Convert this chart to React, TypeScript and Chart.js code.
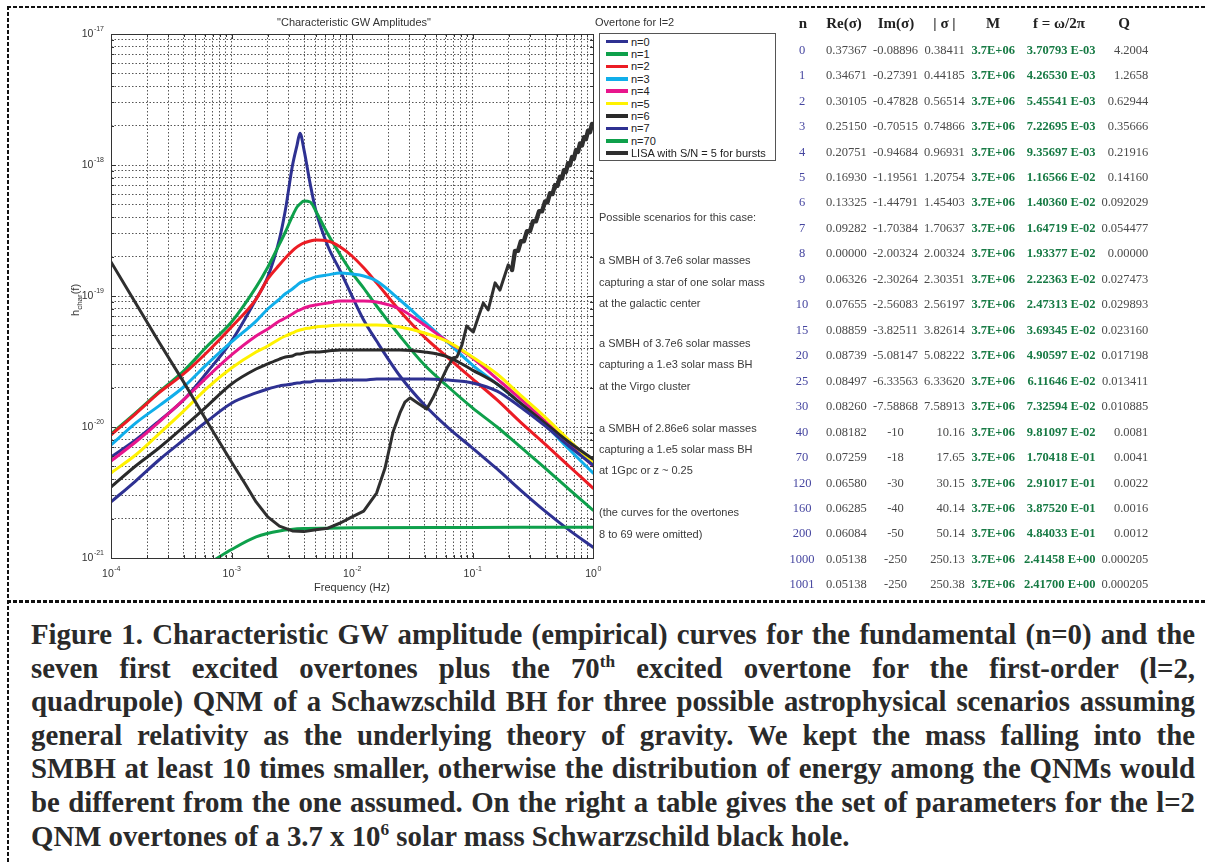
import React, { useEffect, useRef } from 'react';
import { Chart, registerables } from 'chart.js';

Chart.register(...registerables);

// ---------------- chart data ----------------
const overtoneFreq = [1e-4, 1.6e-4, 2.5e-4, 4e-4, 6.3e-4, 1e-3, 1.6e-3, 2e-3, 2.5e-3, 2.8e-3, 3.2e-3, 3.5e-3, 3.7e-3, 4e-3, 4.5e-3, 5e-3, 6.3e-3, 8e-3, 1e-2, 1.25e-2, 1.6e-2, 2.5e-2, 4e-2, 6.3e-2, 0.1, 0.16, 0.25, 0.4, 0.63, 1];

const hN0 = [5.9e-21, 7.96e-21, 1.11e-20, 1.61e-20, 2.63e-20, 4.53e-20, 9.48e-20, 1.40e-19, 2.72e-19, 4.53e-19, 9.82e-19, 1.42e-18, 1.75e-18, 1.30e-18, 7.16e-19, 4.53e-19, 2.41e-19, 1.55e-19, 1.00e-19, 6.56e-20, 4.53e-20, 2.45e-20, 1.47e-20, 9.83e-21, 6.91e-21, 4.78e-21, 3.30e-21, 2.28e-21, 1.64e-21, 1.21e-21];
const hN1 = [8.85e-21, 1.28e-20, 1.85e-20, 2.67e-20, 4.15e-20, 6.34e-20, 1.17e-19, 1.66e-19, 2.49e-19, 3.08e-19, 4.08e-19, 4.78e-19, 5.04e-19, 5.31e-19, 5.22e-19, 4.46e-19, 2.97e-19, 2.06e-19, 1.50e-19, 1.15e-19, 8.39e-20, 4.95e-20, 2.97e-20, 2.02e-20, 1.40e-20, 1.00e-20, 7.04e-21, 4.86e-21, 3.36e-21, 2.32e-21];
const hN2 = [8.69e-21, 1.26e-20, 1.82e-20, 2.54e-20, 3.74e-20, 5.80e-20, 9.48e-20, 1.35e-19, 1.73e-19, 1.95e-19, 2.21e-19, 2.37e-19, 2.45e-19, 2.54e-19, 2.63e-19, 2.68e-19, 2.63e-19, 2.37e-19, 2.02e-19, 1.64e-19, 1.26e-19, 7.68e-20, 4.86e-20, 3.36e-20, 2.33e-20, 1.61e-20, 1.09e-20, 7.41e-21, 5.04e-21, 3.42e-21];
const hN3 = [7.29e-21, 1.07e-20, 1.45e-20, 2.02e-20, 3.03e-20, 4.46e-20, 6.44e-20, 7.96e-20, 9.48e-20, 1.04e-19, 1.13e-19, 1.21e-19, 1.26e-19, 1.30e-19, 1.35e-19, 1.40e-19, 1.45e-19, 1.50e-19, 1.47e-19, 1.42e-19, 1.30e-19, 9.32e-20, 6.34e-20, 4.38e-20, 2.97e-20, 2.13e-20, 1.52e-20, 1.04e-20, 6.79e-21, 4.46e-21];
const hN4 = [5.50e-21, 7.68e-21, 1.09e-20, 1.61e-20, 2.41e-20, 3.55e-20, 4.95e-20, 5.60e-20, 6.44e-20, 6.79e-20, 7.29e-20, 7.68e-20, 7.82e-20, 8.10e-20, 8.39e-20, 8.54e-20, 8.84e-20, 9.16e-20, 9.16e-20, 9.16e-20, 9.00e-20, 7.96e-20, 6.01e-20, 4.46e-20, 3.36e-20, 2.33e-20, 1.64e-20, 1.11e-20, 7.55e-21, 5.04e-21];
const hN5 = [4.46e-21, 6.11e-21, 8.85e-21, 1.32e-20, 1.99e-20, 2.82e-20, 3.74e-20, 4.15e-20, 4.70e-20, 4.95e-20, 5.22e-20, 5.41e-20, 5.50e-20, 5.60e-20, 5.70e-20, 5.80e-20, 5.90e-20, 6.01e-20, 6.01e-20, 6.01e-20, 6.01e-20, 5.80e-20, 5.22e-20, 4.46e-20, 3.42e-20, 2.54e-20, 1.75e-20, 1.19e-20, 7.96e-21, 5.31e-21];
const hN6 = [3.48e-21, 5.04e-21, 6.91e-21, 1.00e-20, 1.45e-20, 2.13e-20, 2.77e-20, 3.03e-20, 3.30e-20, 3.42e-20, 3.48e-20, 3.61e-20, 3.61e-20, 3.67e-20, 3.74e-20, 3.74e-20, 3.80e-20, 3.87e-20, 3.87e-20, 3.87e-20, 3.87e-20, 3.87e-20, 3.74e-20, 3.42e-20, 2.72e-20, 2.13e-20, 1.52e-20, 1.07e-20, 7.68e-21, 5.70e-21];
const hN7 = [2.68e-21, 3.87e-21, 5.60e-21, 7.96e-21, 1.11e-20, 1.52e-20, 1.82e-20, 1.95e-20, 2.06e-20, 2.09e-20, 2.13e-20, 2.17e-20, 2.17e-20, 2.21e-20, 2.21e-20, 2.25e-20, 2.25e-20, 2.28e-20, 2.28e-20, 2.28e-20, 2.33e-20, 2.33e-20, 2.33e-20, 2.28e-20, 2.17e-20, 1.88e-20, 1.42e-20, 1.02e-20, 7.16e-21, 5.13e-21];

const n70Freq = [7e-4, 1e-3, 1.6e-3, 2.5e-3, 4e-3, 6.3e-3, 1e-2, 0.1, 1];
const hN70 = [9.5e-22, 1.16e-21, 1.45e-21, 1.61e-21, 1.68e-21, 1.69e-21, 1.70e-21, 1.71e-21, 1.72e-21];

const lisaFreq = [1e-4, 1.6e-4, 2.5e-4, 4e-4, 6.3e-4, 1e-3, 1.3e-3, 1.6e-3, 2e-3, 2.5e-3, 3.2e-3, 4e-3, 5e-3, 6.3e-3, 8e-3, 1e-2, 1.25e-2, 1.6e-2, 1.88e-2, 2.19e-2, 2.5e-2, 2.75e-2, 3.03e-2, 3.53e-2, 4.17e-2, 4.70e-2, 5.37e-2, 6.14e-2, 6.89e-2, 7.43e-2, 8.18e-2, 8.95e-2, 0.1016, 0.111, 0.123, 0.135, 0.154, 0.169, 0.198, 0.213,
  0.2254, 0.2388, 0.2523, 0.2673, 0.2831, 0.2999, 0.3177, 0.3365, 0.3565, 0.3776, 0.3999, 0.4188, 0.4395, 0.4613, 0.4842, 0.5070, 0.5321, 0.5534, 0.5741, 0.5970, 0.6209, 0.6442, 0.6699, 0.6950, 0.7228, 0.7516, 0.7798, 0.8110, 0.8414, 0.8750, 0.9099, 0.9441, 0.9817, 1.0];
const hLisa = [1.82e-19, 8.84e-20, 4.46e-20, 2.21e-20, 1.09e-20, 5.41e-21, 3.67e-21, 2.68e-21, 2.06e-21, 1.75e-21, 1.61e-21, 1.59e-21, 1.64e-21, 1.69e-21, 1.85e-21, 2.06e-21, 2.28e-21, 3.13e-21, 4.86e-21, 9.16e-21, 1.28e-20, 1.55e-20, 1.67e-20, 1.52e-20, 1.37e-20, 1.67e-20, 2.17e-20, 2.82e-20, 3.36e-20, 3.42e-20, 4.23e-20, 5.90e-20, 5.31e-20, 6.79e-20, 8.84e-20, 7.82e-20, 1.26e-19, 1.11e-19, 1.73e-19, 1.58e-19,
  2.21e-19, 2.21e-19, 2.62e-19, 2.62e-19, 3.13e-19, 3.13e-19, 3.72e-19, 3.72e-19, 4.43e-19, 4.43e-19, 5.26e-19, 5.19e-19, 6.09e-19, 6.00e-19, 7.03e-19, 6.94e-19, 8.14e-19, 7.90e-19, 9.14e-19, 8.87e-19, 1.03e-18, 9.96e-19, 1.15e-18, 1.12e-18, 1.30e-18, 1.26e-18, 1.46e-18, 1.41e-18, 1.63e-18, 1.58e-18, 1.83e-18, 1.78e-18, 2.06e-18, 1.94e-18];
// index in the LISA arrays where the dense (thick-band) oscillation part starts
const lisaDenseStart = 39;

const seriesLabels = ['n=0', 'n=1', 'n=2', 'n=3', 'n=4', 'n=5', 'n=6', 'n=7', 'n=70', 'LISA with S/N = 5 for bursts'];
const seriesColors = ['#2e3192', '#0ea04b', '#ec1c24', '#10aeea', '#e8158c', '#fff200', '#2a2a2a', '#2e3192', '#0ea04b', '#2f2f2f'];
const seriesFreq = [overtoneFreq, overtoneFreq, overtoneFreq, overtoneFreq, overtoneFreq, overtoneFreq, overtoneFreq, overtoneFreq, n70Freq, lisaFreq];
const seriesH = [hN0, hN1, hN2, hN3, hN4, hN5, hN6, hN7, hN70, hLisa];

const xDecades = [1e-4, 1e-3, 1e-2, 1e-1, 1];
const xExponents = ['-4', '-3', '-2', '-1', '0'];
const yDecades = [1e-21, 1e-20, 1e-19, 1e-18, 1e-17];
const yExponents = ['-21', '-20', '-19', '-18', '-17'];

const scenarioLines = [
  'Possible scenarios for this case:',
  'a SMBH of 3.7e6 solar masses',
  'capturing a star of one solar mass',
  'at the galactic center',
  'a SMBH of 3.7e6 solar masses',
  'capturing a 1.e3 solar mass BH',
  'at the Virgo cluster',
  'a SMBH of 2.86e6 solar masses',
  'capturing a 1.e5 solar mass BH',
  'at 1Gpc or z ~ 0.25',
  '(the curves for the overtones',
  '8 to 69 were omitted)',
];
const scenarioY = [217, 259.5, 281.5, 302.5, 342.5, 364, 385.5, 427.5, 449, 470, 512, 533.5];

// ---------------- table data ----------------
const tableHeaders = ['n', 'Re(σ)', 'Im(σ)', '| σ |', 'M', 'f = ω/2π', 'Q'];
const tableN = ['0', '1', '2', '3', '4', '5', '6', '7', '8', '9', '10', '15', '20', '25', '30', '40', '70', '120', '160', '200', '1000', '1001'];
const tableRe = ['0.37367', '0.34671', '0.30105', '0.25150', '0.20751', '0.16930', '0.13325', '0.09282', '0.00000', '0.06326', '0.07655', '0.08859', '0.08739', '0.08497', '0.08260', '0.08182', '0.07259', '0.06580', '0.06285', '0.06084', '0.05138', '0.05138'];
const tableIm = ['-0.08896', '-0.27391', '-0.47828', '-0.70515', '-0.94684', '-1.19561', '-1.44791', '-1.70384', '-2.00324', '-2.30264', '-2.56083', '-3.82511', '-5.08147', '-6.33563', '-7.58868', '-10', '-18', '-30', '-40', '-50', '-250', '-250'];
const tableAbs = ['0.38411', '0.44185', '0.56514', '0.74866', '0.96931', '1.20754', '1.45403', '1.70637', '2.00324', '2.30351', '2.56197', '3.82614', '5.08222', '6.33620', '7.58913', '10.16', '17.65', '30.15', '40.14', '50.14', '250.13', '250.38'];
const tableM = ['3.7E+06', '3.7E+06', '3.7E+06', '3.7E+06', '3.7E+06', '3.7E+06', '3.7E+06', '3.7E+06', '3.7E+06', '3.7E+06', '3.7E+06', '3.7E+06', '3.7E+06', '3.7E+06', '3.7E+06', '3.7E+06', '3.7E+06', '3.7E+06', '3.7E+06', '3.7E+06', '3.7E+06', '3.7E+06'];
const tableF = ['3.70793 E-03', '4.26530 E-03', '5.45541 E-03', '7.22695 E-03', '9.35697 E-03', '1.16566 E-02', '1.40360 E-02', '1.64719 E-02', '1.93377 E-02', '2.22363 E-02', '2.47313 E-02', '3.69345 E-02', '4.90597 E-02', '6.11646 E-02', '7.32594 E-02', '9.81097 E-02', '1.70418 E-01', '2.91017 E-01', '3.87520 E-01', '4.84033 E-01', '2.41458 E+00', '2.41700 E+00'];
const tableQ = ['4.2004', '1.2658', '0.62944', '0.35666', '0.21916', '0.14160', '0.092029', '0.054477', '0.00000', '0.027473', '0.029893', '0.023160', '0.017198', '0.013411', '0.010885', '0.0081', '0.0041', '0.0022', '0.0016', '0.0012', '0.000205', '0.000205'];

const captionLines = [
  'Figure 1. Characteristic GW amplitude (empirical) curves for the fundamental (n=0) and the',
  'seven first excited overtones plus the 70^th excited overtone for the first-order (l=2,',
  'quadrupole) QNM of a Schawzschild BH for three possible astrophysical scenarios assuming',
  'general relativity as the underlying theory of gravity. We kept the mass falling into the',
  'SMBH at least 10 times smaller, otherwise the distribution of energy among the QNMs would',
  'be different from the one assumed. On the right a table gives the set of parameters for the l=2',
  'QNM overtones of a 3.7 x 10^6 solar mass Schwarzschild black hole.',
];

// ---------------- helpers ----------------
const SANS = '"Liberation Sans", Arial, Helvetica, sans-serif';
const SERIF = '"Liberation Serif", "Times New Roman", Times, serif';

function gridTicks(decades: number[]) {
  const out: { value: number; major: boolean }[] = [];
  for (let i = 0; i < decades.length - 1; i++) {
    for (let k = 1; k <= 9; k++) out.push({ value: decades[i] * k, major: k === 1 });
  }
  out.push({ value: decades[decades.length - 1], major: true });
  return out;
}

const axisDecor = {
  id: 'axisDecor',
  afterDraw(chart: any) {
    const { ctx, chartArea: a, scales } = chart;
    const xs = scales.x;
    const ys = scales.y;
    ctx.save();
    ctx.strokeStyle = '#333';
    ctx.lineWidth = 1;
    ctx.beginPath();
    xs.ticks.forEach((t: any) => {
      const px = Math.round(xs.getPixelForValue(t.value)) + 0.5;
      const L = t.major ? 5 : 3;
      ctx.moveTo(px, a.bottom); ctx.lineTo(px, a.bottom - L);
      ctx.moveTo(px, a.top); ctx.lineTo(px, a.top + L);
    });
    ys.ticks.forEach((t: any) => {
      const py = Math.round(ys.getPixelForValue(t.value)) + 0.5;
      const L = t.major ? 5 : 3;
      ctx.moveTo(a.left, py); ctx.lineTo(a.left + L, py);
      ctx.moveTo(a.right, py); ctx.lineTo(a.right - L, py);
    });
    ctx.stroke();
    ctx.strokeRect(Math.round(a.left) + 0.5, Math.round(a.top) + 0.5, Math.round(a.right - a.left), Math.round(a.bottom - a.top));

    const base = '10.5px ' + SANS;
    const small = '7px ' + SANS;
    ctx.fillStyle = '#333';
    ctx.textAlign = 'left';
    ctx.textBaseline = 'alphabetic';
    xDecades.forEach((v, i) => {
      const px = xs.getPixelForValue(v);
      ctx.font = base;
      const w1 = ctx.measureText('10').width;
      ctx.font = small;
      const w2 = ctx.measureText(xExponents[i]).width;
      const x0 = px - (w1 + w2) / 2;
      ctx.font = base;
      ctx.fillText('10', x0, a.bottom + 19);
      ctx.font = small;
      ctx.fillText(xExponents[i], x0 + w1 + 0.5, a.bottom + 13);
    });
    yDecades.forEach((v, i) => {
      const py = ys.getPixelForValue(v);
      const xr = a.left - 7;
      ctx.font = small;
      const w2 = ctx.measureText(yExponents[i]).width;
      ctx.font = base;
      const w1 = ctx.measureText('10').width;
      ctx.fillText('10', xr - w2 - w1 - 0.5, py + 3);
      ctx.font = small;
      ctx.fillText(yExponents[i], xr - w2, py - 3);
    });
    ctx.restore();
  },
};

function GWChart() {
  const ref = useRef<HTMLCanvasElement>(null);
  useEffect(() => {
    const canvas = ref.current as HTMLCanvasElement;
    const datasets: any[] = seriesLabels.map((label, i) => ({
      label,
      data: seriesFreq[i].map((f, j) => ({ x: f, y: seriesH[i][j] })),
      borderColor: seriesColors[i],
      backgroundColor: seriesColors[i],
      borderWidth: 3,
      pointRadius: 0,
      pointHoverRadius: 0,
      fill: false,
      tension: 0,
      cubicInterpolationMode: i < 9 ? 'monotone' : 'default',
      borderJoinStyle: 'round',
      borderCapStyle: 'round',
      order: 20 - i,
    }));
    // the densely oscillating high-frequency part of the LISA curve appears as a thick band
    datasets.push({
      label: 'LISA dense band',
      data: lisaFreq.slice(lisaDenseStart).map((f, j) => ({ x: f, y: hLisa[lisaDenseStart + j] })),
      borderColor: seriesColors[9],
      borderWidth: 4.4,
      pointRadius: 0,
      fill: false,
      tension: 0,
      borderJoinStyle: 'round',
      borderCapStyle: 'round',
      order: 0,
    });
    const commonScale = {
      type: 'logarithmic',
      ticks: { display: false },
      grid: { color: '#555', lineWidth: 1, drawTicks: false },
      border: { display: false, dash: [1.5, 2] },
    };
    const chart = new Chart(canvas, {
      type: 'line',
      data: { datasets } as any,
      options: {
        responsive: false,
        animation: false,
        events: [],
        layout: { padding: { left: 0, top: 34, right: 17, bottom: 0 } },
        plugins: { legend: { display: false }, tooltip: { enabled: false }, title: { display: false } },
        scales: {
          x: {
            ...commonScale,
            position: 'bottom',
            min: 1e-4,
            max: 1,
            afterBuildTicks: (s: any) => { s.ticks = gridTicks(xDecades); },
            afterFit: (s: any) => { s.height = 42; },
          },
          y: {
            ...commonScale,
            position: 'left',
            min: 1e-21,
            max: 1e-17,
            afterBuildTicks: (s: any) => { s.ticks = gridTicks(yDecades); },
            afterFit: (s: any) => { s.width = 111; },
          },
        },
      } as any,
      plugins: [axisDecor],
    });
    return () => chart.destroy();
  }, []);
  return (
    <canvas
      ref={ref}
      width={610}
      height={600}
      style={{ position: 'absolute', left: 0, top: 0, width: 610, height: 600, display: 'block' }}
    />
  );
}

function renderSup(line: string) {
  const parts = line.split(/\^(\w+)/);
  return parts.map((p, i) =>
    i % 2 === 1 ? (
      <sup key={i} style={{ fontSize: '0.6em', verticalAlign: 'super', lineHeight: 0 }}>{p}</sup>
    ) : (
      <React.Fragment key={i}>{p}</React.Fragment>
    )
  );
}

const dashH = 'repeating-linear-gradient(90deg, #111 0px, #111 4px, transparent 4px, transparent 6px)';
const dashV = 'repeating-linear-gradient(180deg, #111 0px, #111 4px, transparent 4px, transparent 6px)';

function Cell(props: { text: string; x: number; y: number; align: 'left' | 'right' | 'center'; style?: any }) {
  const { text, x, y, align, style } = props;
  const w = 120;
  const left = align === 'right' ? x - w : align === 'center' ? x - w / 2 : x;
  return (
    <div
      style={{
        position: 'absolute',
        left,
        top: y - 10,
        width: w,
        height: 20,
        lineHeight: '20px',
        textAlign: align,
        whiteSpace: 'nowrap',
        ...style,
      }}
    >
      {text}
    </div>
  );
}

export default function App() {
  const rowY0 = 49.7;
  const rowStep = 25.46;
  const valStyle = { fontFamily: SERIF, fontSize: '12.5px', color: '#4a4a4a' };
  const nStyle = { ...valStyle, color: '#4646a0' };
  const greenStyle = { ...valStyle, color: '#177a44', fontWeight: 'bold' };
  const headStyle = { fontFamily: SERIF, fontSize: '15px', fontWeight: 'bold', color: '#222' };
  const headX = [803, 844, 896, 944.5, 993, 1059, 1124];

  return (
    <div
      style={{
        position: 'absolute',
        left: 0,
        top: 0,
        width: 1206,
        height: 862,
        background: '#fff',
        overflow: 'hidden',
        fontFamily: SANS,
      }}
    >
      {/* dashed frame */}
      <div style={{ position: 'absolute', left: 7, top: 6, width: 1199, height: 2, background: dashH }} />
      <div style={{ position: 'absolute', left: 7, top: 6, width: 2, height: 856, background: dashV }} />
      <div style={{ position: 'absolute', left: 7, top: 600, width: 1199, height: 2.5, background: dashH }} />

      <GWChart />

      {/* chart texts */}
      <div style={{ position: 'absolute', left: 354, top: 22, transform: 'translate(-50%,-50%)', fontSize: 11, color: '#333', whiteSpace: 'nowrap' }}>
        "Characteristic GW Amplitudes"
      </div>
      <div style={{ position: 'absolute', left: 352, top: 587, transform: 'translate(-50%,-50%)', fontSize: 11, color: '#333', whiteSpace: 'nowrap' }}>
        Frequency (Hz)
      </div>
      <div
        style={{
          position: 'absolute',
          left: 75,
          top: 300,
          transform: 'translate(-50%,-50%) rotate(-90deg)',
          fontSize: 11,
          color: '#333',
          whiteSpace: 'nowrap',
        }}
      >
        h<sub style={{ fontSize: 8, lineHeight: 0 }}>char</sub>(f)
      </div>
      <div style={{ position: 'absolute', left: 595, top: 22, transform: 'translateY(-50%)', fontSize: 11, color: '#333', whiteSpace: 'nowrap' }}>
        Overtone for l=2
      </div>

      {/* legend */}
      <div
        style={{
          position: 'absolute',
          left: 599,
          top: 33,
          width: 175,
          height: 126,
          border: '1px solid #555',
          background: '#fff',
        }}
      >
        {seriesLabels.map((lab, i) => (
          <div key={i} style={{ position: 'absolute', left: 0, top: 1.5 + 12.4 * i, height: 12.4, width: 175 }}>
            <div style={{ position: 'absolute', left: 6, top: 4.4, width: 22, height: 3.6, background: seriesColors[i] }} />
            <div style={{ position: 'absolute', left: 31, top: 0, lineHeight: '12.4px', fontSize: 11, color: '#222', whiteSpace: 'nowrap' }}>{lab}</div>
          </div>
        ))}
      </div>

      {/* scenarios */}
      {scenarioLines.map((t, i) => (
        <div key={i} style={{ position: 'absolute', left: 599, top: scenarioY[i] - 7, lineHeight: '14px', fontSize: 11, color: '#3a3a3a', whiteSpace: 'nowrap' }}>
          {t}
        </div>
      ))}

      {/* table */}
      {tableHeaders.map((h, i) => (
        <Cell key={'h' + i} text={h} x={headX[i]} y={23} align="center" style={headStyle} />
      ))}
      {tableN.map((n, r) => {
        const y = rowY0 + rowStep * r;
        return (
          <React.Fragment key={'r' + r}>
            <Cell text={n} x={802} y={y} align="center" style={nStyle} />
            <Cell text={tableRe[r]} x={866.7} y={y} align="right" style={valStyle} />
            <Cell text={tableIm[r]} x={895.5} y={y} align="center" style={valStyle} />
            <Cell text={tableAbs[r]} x={964.7} y={y} align="right" style={valStyle} />
            <Cell text={tableM[r]} x={1015} y={y} align="right" style={greenStyle} />
            <Cell text={tableF[r]} x={1095.6} y={y} align="right" style={greenStyle} />
            <Cell text={tableQ[r]} x={1148.3} y={y} align="right" style={valStyle} />
          </React.Fragment>
        );
      })}

      {/* caption */}
      {captionLines.map((line, i) => (
        <div
          key={'c' + i}
          style={{
            position: 'absolute',
            left: 31,
            top: 618 + 33.6 * i,
            width: 1164,
            fontFamily: SERIF,
            fontWeight: 'bold',
            fontSize: 28.8,
            lineHeight: '33.6px',
            color: '#2a2a2a',
            whiteSpace: 'nowrap',
            textAlign: i < captionLines.length - 1 ? 'justify' : 'left',
            textAlignLast: i < captionLines.length - 1 ? 'justify' : 'left',
          } as any}
        >
          {renderSup(line)}
        </div>
      ))}
    </div>
  );
}
